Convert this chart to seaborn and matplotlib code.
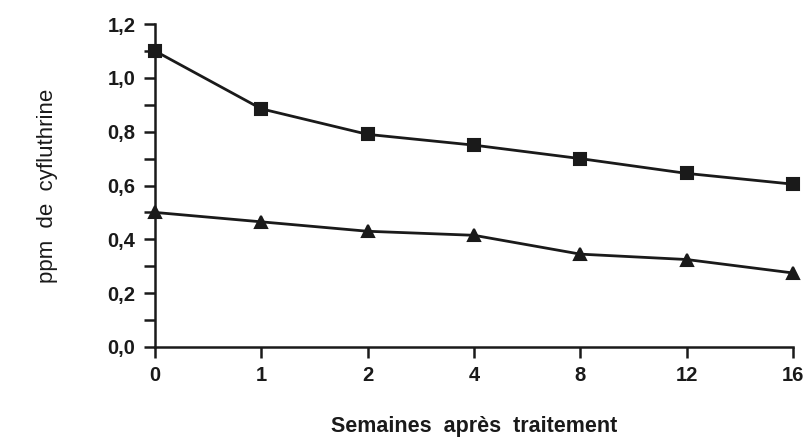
import matplotlib
matplotlib.use("Agg")
import matplotlib.pyplot as plt
import seaborn as sns
import pandas as pd
from matplotlib.ticker import MultipleLocator

semaines = ["0", "1", "2", "4", "8", "12", "16"]
serie_carres = [1.10, 0.885, 0.79, 0.75, 0.70, 0.645, 0.605]
serie_triangles = [0.50, 0.465, 0.43, 0.415, 0.345, 0.325, 0.275]
y_ticks = [0.0, 0.2, 0.4, 0.6, 0.8, 1.0, 1.2]
y_labels = ["0,0", "0,2", "0,4", "0,6", "0,8", "1,0", "1,2"]

df = pd.DataFrame({
    "semaine": semaines * 2,
    "ppm": serie_carres + serie_triangles,
    "serie": ["A"] * len(semaines) + ["B"] * len(semaines),
})

sns.set_theme(style="ticks")
plt.rcParams["font.family"] = ["Liberation Sans", "DejaVu Sans"]

fig = plt.figure(figsize=(8.05, 4.37), dpi=100)
ax = fig.add_axes([0.1925, 0.206, 0.7925, 0.739])

sns.pointplot(data=df, x="semaine", y="ppm", hue="serie", order=semaines,
              markers=["s", "^"], linestyles=["-", "-"],
              palette=["#1a1a1a", "#1a1a1a"], markersize=9, linewidth=2,
              legend=False, ax=ax, clip_on=False, zorder=3)

ax.set_xlim(0, len(semaines) - 1)
ax.set_ylim(0, 1.2)
ax.set_yticks(y_ticks)
ax.set_yticklabels(y_labels)
ax.yaxis.set_minor_locator(MultipleLocator(0.1))
for sp in ["top", "right"]:
    ax.spines[sp].set_visible(False)
for sp in ["left", "bottom"]:
    ax.spines[sp].set_linewidth(1.8)
    ax.spines[sp].set_color("#1a1a1a")
ax.tick_params(axis="both", which="both", length=8, width=1.8, color="#1a1a1a",
               labelsize=14.5, labelcolor="#1a1a1a", pad=6)
for lab in ax.get_xticklabels() + ax.get_yticklabels():
    lab.set_fontweight("bold")

ax.set_xlabel("Semaines  après  traitement", fontsize=15.5, fontweight="bold",
              color="#1a1a1a", labelpad=22)
ax.set_ylabel("ppm  de  cyfluthrine", fontsize=16, color="#1a1a1a", labelpad=36)

fig.savefig("out.png", dpi=100)
